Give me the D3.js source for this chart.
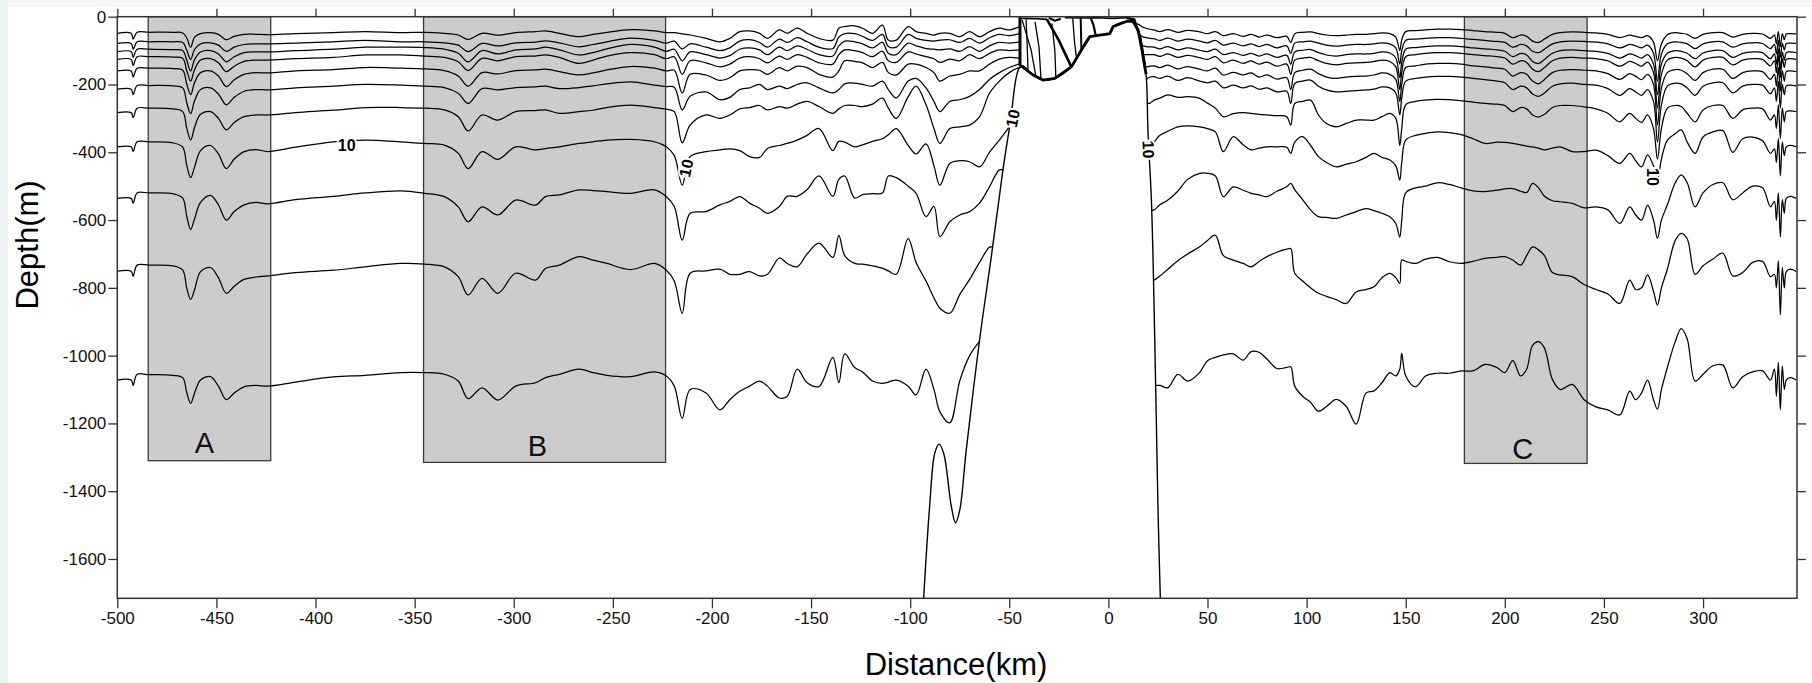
<!DOCTYPE html>
<html>
<head>
<meta charset="utf-8">
<script src="https://cdn.jsdelivr.net/npm/d3@7"></script>
<style>
  body { margin: 0; background: #fff; }
  svg { display: block; font-family: Arial, "Liberation Sans", sans-serif; }
</style>
</head>
<body>
<div id="chart"></div>
<script>
// Axis ticks
const xTicks = [-500, -450, -400, -350, -300, -250, -200, -150, -100, -50, 0, 50, 100, 150, 200, 250, 300]
const yTicks = [0, -200, -400, -600, -800, -1000, -1200, -1400, -1600]

// Shaded boxes
const boxNames = ['A', 'B', 'C']
const boxStart = [-484.4, -345.5, 179.6]
const boxEnd = [-422.6, -223.4, 241.5]
const boxBottom = [1310, 1315, 1318]
const boxLabelKm = [-456, -288, 209]
const boxLabelDepth = [1286, 1296, 1306]

// Contour labels "10"
const labelKm = [-384.3, -213, -48.2, 20.2, 274.7]
const labelDepth = [379, 447, 300, 392, 473]
const labelAngle = [0, -78, -78, 88, 90]

// Bathymetry of the seamount (km, depth m)
const bathyKm = [-93.2, -90.2, -87.6, -85.4, -83.1, -79.2, -77.1, -75, -71.7, -65, -59, -53.2, -49.8, -44,
  -38, -33, -27, -18.7, -13.6, -9.4, 0.7, 2.4, 9.1, 12.4, 15, 17, 19, 20, 21.7, 23.4, 25, 26.2]
const bathyDepth = [1716, 1446, 1288, 1261, 1288, 1446, 1493, 1456, 1278, 954, 705, 452, 325, 145,
  172, 187, 182, 148, 98, 59, 50, 29, 14, 14, 40, 100, 170, 344, 541, 954, 1446, 1716]

// Contours over the shallow top of the seamount (km, depth m)
const shelfTraces = [
  [[-44.6, 0], [-44.6, 145]],
  [[-44, 5], [-36, 6], [-31, 8]],
  [[-31, 8], [-25, 70], [-18.7, 148]],
  [[-41.5, 8], [-41, 80], [-40.5, 163]],
  [[-37, 15], [-35, 90], [-34, 184]],
  [[-28.5, 20], [-27, 100], [-26.5, 182]],
  [[-18, 5], [-17, 80], [-16, 125]],
  [[-14, 0], [-13.6, 98]],
  [[-9, 3], [-7.5, 25], [-6.5, 52]],
  [[-22, 3], [-12, 4], [-5, 3], [2, 5], [9, 3]],
  [[9, 3], [13, 8], [16, 60], [18.5, 150]],
  [[-43.5, 10], [-39, 98], [-36.5, 178]],
  [[-30, 3], [-27, 12], [-24, 6]]
]

// West of the seamount: distance grid (km)
const leftKm = [-500, -493, -492, -490, -484, -472, -467, -465, -463, -461,
  -458, -453, -449, -445, -441, -436, -430, -424, -410, -391,
  -375, -357, -345, -335, -328, -323, -316, -308, -299, -289,
  -284, -277, -267, -260, -253, -241, -229, -223, -219, -215,
  -211, -203, -196, -191, -186, -181, -176, -172, -166, -162,
  -157, -152, -146, -139, -136, -133, -128, -124, -119, -114,
  -111, -107, -101, -97, -92, -88, -85, -80, -75, -70,
  -65, -60, -55, -50, -45]

// Contour depths (m), shallow to deep
const line1Left = [49, 49, 66, 46, 46, 46, 48, 62, 90, 60,
  50, 47, 52, 68, 58, 52, 52, 53, 50, 47,
  44, 47, 46, 49, 54, 67, 49, 54, 47, 44,
  42, 49, 59, 52, 46, 38, 42, 47, 47, 51,
  54, 64, 74, 64, 44, 42, 49, 64, 39, 49,
  34, 49, 64, 69, 34, 29, 27, 34, 49, 25,
  69, 69, 29, 44, 49, 54, 49, 49, 59, 44,
  59, 44, 34, 39, 30]
const line2Left = [79, 79, 96, 74, 74, 74, 76, 98, 126, 96,
  80, 77, 84, 102, 90, 82, 80, 80, 78, 74,
  70, 74, 74, 77, 84, 103, 79, 86, 77, 75,
  71, 77, 89, 82, 74, 63, 70, 78, 72, 95,
  80, 90, 100, 92, 72, 68, 76, 90, 66, 76,
  62, 74, 90, 94, 60, 50, 50, 58, 70, 52,
  88, 90, 52, 64, 70, 72, 69, 68, 76, 64,
  78, 62, 52, 56, 50]
const line3Left = [103, 103, 120, 96, 96, 97, 100, 128, 160, 126,
  104, 100, 110, 133, 118, 106, 104, 104, 100, 96,
  90, 90, 91, 96, 108, 133, 100, 110, 98, 95,
  90, 98, 113, 106, 95, 82, 90, 102, 96, 130,
  104, 112, 122, 115, 96, 92, 98, 112, 90, 100,
  86, 96, 112, 116, 86, 72, 74, 80, 92, 76,
  108, 112, 78, 86, 94, 96, 98, 95, 102, 88,
  102, 86, 76, 78, 75]
const line4Left = [126, 126, 144, 118, 118, 119, 123, 158, 190, 156,
  128, 124, 136, 162, 146, 132, 128, 128, 124, 120,
  113, 113, 116, 120, 133, 159, 123, 130, 118, 116,
  113, 120, 138, 128, 116, 106, 112, 124, 118, 170,
  130, 136, 148, 140, 122, 118, 124, 136, 116, 126,
  112, 120, 136, 140, 112, 98, 100, 106, 118, 102,
  130, 135, 104, 110, 118, 124, 135, 125, 130, 112,
  124, 108, 98, 100, 98]
const line5Left = [160, 160, 178, 152, 152, 153, 158, 198, 230, 194,
  165, 160, 175, 206, 186, 170, 165, 166, 160, 156,
  150, 152, 154, 159, 175, 205, 165, 169, 159, 157,
  155, 162, 172, 166, 157, 147, 152, 160, 158, 225,
  170, 172, 188, 180, 160, 156, 158, 170, 150, 160,
  146, 150, 170, 178, 160, 130, 132, 136, 150, 135,
  165, 172, 140, 140, 150, 165, 190, 175, 170, 160,
  160, 140, 125, 120, 122]
const line6Left = [214, 214, 230, 203, 203, 204, 210, 253, 286, 248,
  215, 210, 228, 260, 238, 220, 215, 216, 210, 205,
  200, 202, 205, 209, 226, 256, 212, 216, 209, 207,
  205, 212, 209, 204, 198, 192, 202, 206, 208, 275,
  235, 222, 245, 238, 215, 210, 200, 215, 205, 212,
  200, 195, 210, 225, 215, 198, 196, 200, 205, 190,
  215, 240, 190, 182, 210, 250, 280, 250, 245, 235,
  215, 185, 165, 150, 140]
const line7Left = [283, 283, 298, 270, 270, 272, 280, 328, 364, 326,
  288, 280, 300, 334, 312, 295, 290, 290, 283, 276,
  268, 268, 270, 275, 295, 337, 290, 305, 280, 277,
  275, 285, 280, 276, 268, 261, 268, 273, 280, 372,
  320, 290, 300, 290, 272, 268, 262, 275, 265, 270,
  258, 250, 265, 285, 272, 262, 262, 265, 258, 240,
  270, 300, 236, 205, 260, 330, 374, 330, 325, 320,
  295, 226, 190, 165, 150]
const line8Left = [384, 384, 398, 369, 369, 372, 385, 438, 475, 443,
  395, 380, 405, 448, 420, 398, 392, 398, 385, 369,
  364, 369, 374, 379, 403, 448, 398, 421, 384, 393,
  389, 384, 374, 369, 364, 362, 369, 384, 410, 497,
  413, 398, 393, 390, 395, 413, 415, 389, 380, 374,
  364, 350, 330, 395, 368, 370, 384, 378, 368, 360,
  348, 330, 380, 405, 375, 440, 497, 433, 425, 428,
  443, 400, 364, 325, null]
const line9Left = [536, 536, 550, 520, 520, 522, 535, 588, 628, 596,
  548, 527, 555, 600, 575, 555, 548, 552, 540, 530,
  520, 514, 521, 531, 561, 605, 561, 585, 541, 556,
  531, 526, 511, 513, 516, 521, 511, 531, 560, 659,
  580, 575, 555, 545, 531, 550, 565, 580, 560, 530,
  530, 510, 470, 530, 480, 470, 535, 525, 522, 520,
  470, 475, 500, 521, 590, 560, 649, 605, 585, 575,
  550, 502, 452, null, null]
const line10Left = [751, 751, 766, 733, 733, 735, 748, 800, 834, 805,
  752, 740, 770, 816, 795, 775, 768, 765, 755, 748,
  738, 728, 730, 738, 767, 821, 772, 816, 757, 777,
  743, 733, 708, 718, 728, 746, 728, 748, 780, 875,
  757, 750, 745, 760, 760, 752, 765, 760, 712, 728,
  738, 700, 668, 710, 645, 705, 728, 730, 735, 742,
  750, 760, 655, 725, 780, 830, 860, 875, 820, 775,
  725, 680, null, null, null]
const line11Left = [1072, 1072, 1088, 1055, 1056, 1058, 1065, 1108, 1141, 1110,
  1072, 1062, 1090, 1130, 1110, 1092, 1088, 1090, 1078, 1063,
  1058, 1050, 1050, 1055, 1075, 1127, 1095, 1131, 1090, 1080,
  1065, 1055, 1040, 1050, 1058, 1062, 1048, 1060, 1090, 1185,
  1100, 1110, 1160, 1130, 1105, 1090, 1075, 1090, 1125, 1120,
  1040, 1080, 1091, 1005, 1080, 995, 1035, 1048, 1075, 1082,
  1078, 1072, 1090, 1116, 1040, 1100, 1166, 1198, 1075, 1000,
  958, null, null, null, null]

// East of the seamount: distance grid (km)
const rightKm = [15, 17, 19, 21, 23, 26, 30, 35, 40, 46,
  50, 54, 58, 63, 68, 72, 76, 80, 85, 90,
  92, 94, 98, 102, 106, 110, 115, 120, 125, 130,
  134, 138, 142, 145, 147, 148, 150, 155, 160, 166,
  172, 178, 184, 190, 196, 200, 204, 208, 211, 214,
  217, 220, 224, 228, 234, 240, 246, 252, 258, 263,
  266, 269, 272, 275, 277, 279, 282, 286, 289, 292,
  296, 300, 305, 310, 315, 320, 325, 330, 334, 336,
  337, 338, 339, 340, 341, 342, 344, 347]

const line1Right = [22, 30, 34, 37, 39, 44, 38, 46, 40, 45,
  50, 44, 56, 50, 58, 52, 60, 54, 62, 58,
  76, 50, 46, 45, 50, 54, 56, 54, 52, 52,
  50, 48, 50, 60, 100, 68, 44, 41, 39, 37,
  37, 38, 41, 44, 46, 49, 62, 54, 58, 72,
  76, 66, 52, 47, 45, 46, 48, 52, 62, 54,
  58, 62, 56, 75, 130, 80, 53, 47, 49, 52,
  64, 52, 47, 47, 60, 52, 49, 51, 64, 54,
  80, 44, 88, 50, 68, 51, 50, 51]
const line2Right = [50, 58, 62, 64, 65, 70, 63, 72, 66, 72,
  77, 70, 84, 78, 86, 80, 88, 82, 92, 86,
  108, 78, 74, 72, 78, 84, 87, 84, 82, 82,
  80, 77, 80, 92, 140, 100, 70, 66, 64, 62,
  62, 64, 67, 70, 73, 76, 90, 82, 86, 102,
  106, 96, 80, 74, 72, 73, 75, 80, 92, 82,
  86, 92, 84, 108, 190, 110, 80, 74, 76, 80,
  94, 80, 74, 74, 90, 80, 77, 79, 94, 82,
  110, 70, 120, 78, 98, 79, 78, 79]
const line3Right = [null, 86, 88, 89, 90, 95, 88, 98, 92, 99,
  103, 96, 112, 106, 114, 108, 116, 110, 120, 114,
  140, 104, 99, 97, 106, 113, 116, 112, 110, 110,
  108, 104, 107, 122, 180, 135, 96, 91, 88, 86,
  86, 88, 92, 95, 98, 102, 118, 108, 113, 132,
  138, 126, 108, 100, 98, 100, 102, 108, 122, 110,
  115, 122, 112, 140, 230, 140, 108, 100, 102, 108,
  124, 107, 100, 100, 120, 108, 104, 106, 124, 110,
  140, 95, 155, 104, 128, 106, 104, 106]
const line4Right = [null, 112, 112, 112, 112, 117, 110, 120, 114, 121,
  126, 118, 136, 128, 138, 130, 140, 134, 146, 140,
  170, 128, 122, 120, 130, 138, 142, 138, 136, 135,
  132, 128, 132, 148, 215, 165, 118, 112, 108, 106,
  106, 108, 112, 115, 118, 122, 140, 130, 135, 155,
  162, 150, 130, 122, 120, 122, 124, 130, 146, 132,
  138, 146, 134, 165, 270, 170, 128, 120, 122, 130,
  148, 128, 120, 120, 142, 128, 124, 126, 145, 130,
  165, 115, 180, 124, 150, 126, 124, 126]
const line5Right = [null, null, 148, 146, 145, 150, 143, 154, 147, 155,
  160, 152, 172, 164, 172, 166, 178, 172, 184, 180,
  215, 165, 158, 155, 168, 178, 182, 178, 176, 175,
  172, 166, 170, 185, 250, 200, 150, 145, 140, 138,
  138, 140, 145, 148, 152, 155, 175, 165, 170, 190,
  198, 185, 165, 158, 156, 158, 160, 168, 185, 168,
  176, 186, 170, 200, 320, 210, 165, 156, 158, 168,
  188, 165, 155, 155, 182, 165, 160, 162, 185, 170,
  205, 150, 220, 160, 190, 162, 160, 162]
const line6Right = [null, null, 185, 178, 177, 182, 175, 188, 180, 190,
  195, 190, 210, 202, 210, 204, 214, 210, 222, 220,
  256, 197, 190, 187, 205, 216, 222, 220, 218, 216,
  214, 207, 210, 225, 290, 240, 190, 182, 178, 176,
  176, 178, 182, 186, 190, 195, 215, 205, 210, 228,
  235, 225, 205, 198, 196, 200, 202, 212, 232, 212,
  222, 232, 215, 250, 370, 260, 205, 196, 198, 210,
  232, 205, 195, 195, 225, 205, 200, 202, 228, 210,
  250, 190, 270, 200, 230, 204, 202, 204]
const line7Right = [null, null, null, 255, 246, 240, 231, 238, 236, 241,
  255, 270, 295, 286, 283, 285, 288, 290, 292, 295,
  320, 256, 250, 246, 290, 315, 325, 315, 305, 305,
  305, 295, 285, 300, 380, 330, 260, 250, 246, 244,
  245, 248, 252, 256, 258, 262, 280, 268, 272, 290,
  296, 288, 268, 262, 262, 266, 272, 285, 310, 285,
  300, 312, 290, 330, 420, 330, 270, 262, 265, 285,
  310, 275, 262, 262, 300, 275, 270, 272, 305, 290,
  330, 260, 360, 270, 310, 280, 278, 280]
const line8Right = [null, null, null, 380, 370, 350, 338, 325, 322, 325,
  330, 340, 398, 354, 378, 393, 388, 384, 384, 385,
  403, 370, 354, 380, 413, 430, 443, 435, 428, 415,
  403, 415, 423, 440, 482, 430, 364, 350, 344, 340,
  342, 348, 360, 374, 370, 371, 374, 378, 382, 384,
  388, 393, 388, 384, 398, 398, 394, 410, 433, 403,
  425, 443, 408, 440, 480, 420, 364, 345, 334, 370,
  403, 355, 340, 336, 400, 360, 355, 366, 403, 390,
  430, 360, 470, 370, 410, 384, 380, 384]
const line9Right = [null, null, null, null, 570, 555, 541, 515, 480, 462,
  462, 470, 531, 502, 512, 521, 526, 531, 515, 502,
  492, 510, 540, 570, 590, 592, 595, 585, 575, 566,
  572, 580, 590, 610, 650, 600, 520, 505, 500, 490,
  495, 505, 514, 516, 512, 508, 507, 515, 519, 492,
  505, 530, 543, 546, 551, 564, 561, 570, 610, 561,
  585, 600, 556, 600, 654, 600, 555, 490, 467, 490,
  561, 520, 495, 490, 540, 520, 500, 505, 561, 545,
  600, 520, 650, 540, 580, 536, 530, 536]
const line10Right = [null, null, null, null, 777, 765, 745, 720, 700, 679,
  660, 645, 705, 718, 728, 738, 722, 708, 695, 686,
  684, 757, 780, 800, 816, 825, 835, 846, 812, 805,
  797, 770, 757, 770, 787, 718, 722, 728, 715, 710,
  723, 728, 722, 713, 710, 708, 718, 733, 705, 679,
  688, 705, 755, 762, 767, 790, 805, 818, 846, 777,
  805, 800, 762, 810, 851, 800, 745, 660, 639, 655,
  760, 735, 715, 698, 765, 755, 725, 722, 767, 760,
  800, 720, 880, 740, 800, 752, 745, 752]
const line11Right = [null, null, null, null, null, 1088, 1095, 1055, 1075, 1050,
  1015, 1005, 998, 995, 1013, 988, 990, 1010, 1038, 1035,
  1033, 1090, 1120, 1138, 1164, 1150, 1129, 1150, 1202, 1110,
  1104, 1080, 1050, 1060, 1040, 993, 1060, 1092, 1060, 1052,
  1052, 1045, 1045, 1026, 1035, 1050, 1015, 1060, 1040, 970,
  959, 978, 1070, 1100, 1085, 1130, 1151, 1160, 1175, 1105,
  1130, 1110, 1072, 1130, 1158, 1100, 1035, 958, 920, 950,
  1075, 1055, 1030, 1028, 1095, 1062, 1048, 1045, 1072, 1040,
  1120, 1020, 1160, 1030, 1100, 1072, 1065, 1072]

const leftLines = [line1Left, line2Left, line3Left, line4Left, line5Left, line6Left,
  line7Left, line8Left, line9Left, line10Left, line11Left]
const rightLines = [line1Right, line2Right, line3Right, line4Right, line5Right, line6Right,
  line7Right, line8Right, line9Right, line10Right, line11Right]

// Initialization
const width = 1812
const height = 683
const font = 'Arial, "Liberation Sans", sans-serif'

const x = d3.scaleLinear().domain([-500, 347.4]).range([117.3, 1797])
const y = d3.scaleLinear().domain([0, -1716]).range([16.7, 598.3])

const svg = d3.select('#chart').append('svg')
  .attr('width', width)
  .attr('height', height)

// Page background strips
svg.append('rect').attr('width', width).attr('height', height).attr('fill', '#fff')
svg.append('rect').attr('width', 8).attr('height', height).attr('fill', '#edf2f2')
svg.append('rect').attr('x', 8).attr('width', width - 8).attr('height', 7).attr('fill', '#f6f6f6')

// Shaded boxes
svg.selectAll('.box')
  .data(boxNames)
  .enter()
  .append('rect')
  .attr('class', 'box')
  .attr('x', (_, i) => x(boxStart[i]))
  .attr('y', y(0))
  .attr('width', (_, i) => x(boxEnd[i]) - x(boxStart[i]))
  .attr('height', (_, i) => y(-boxBottom[i]) - y(0))
  .attr('fill', '#cccccc')
  .attr('stroke', '#3a3a3a')
  .attr('stroke-width', 1.3)

svg.selectAll('.box-label')
  .data(boxNames)
  .enter()
  .append('text')
  .attr('x', (_, i) => x(boxLabelKm[i]))
  .attr('y', (_, i) => y(-boxLabelDepth[i]))
  .attr('text-anchor', 'middle')
  .attr('font-family', font)
  .attr('font-size', 29)
  .attr('fill', '#111')
  .text(d => d)

const line = d3.line()
  .defined(d => d[1] != null)
  .x(d => x(d[0]))
  .y(d => y(-d[1]))
  .curve(d3.curveCatmullRom.alpha(0.5))

const straight = d3.line()
  .x(d => x(d[0]))
  .y(d => y(-d[1]))

// Slopes of the seamount, used to join contours to the sea floor
const slopeLeft = d3.scaleLinear()
  .domain(bathyDepth.slice(6, 14))
  .range(bathyKm.slice(6, 14))
  .clamp(true)
const slopeRight = d3.scaleLinear()
  .domain(bathyDepth.slice(23))
  .range(bathyKm.slice(23))
  .clamp(true)

function leftSegment(vals) {
  const pts = leftKm.map((k, i) => [k, vals[i]]).filter(p => p[1] != null)
  const last = pts[pts.length - 1]
  const end = last[1] > 145 ? slopeLeft(last[1]) : -44.6
  if (end > last[0] + 0.2) pts.push([end, last[1]])
  return pts
}

function rightSegment(vals) {
  const pts = rightKm.map((k, i) => [k, vals[i]]).filter(p => p[1] != null)
  const first = pts[0]
  const start = slopeRight(first[1])
  if (start < first[0] - 0.2) pts.unshift([start, first[1]])
  return pts
}

const contours = svg.append('g')
  .attr('fill', 'none')
  .attr('stroke', '#000')
  .attr('stroke-width', 1.25)
  .attr('stroke-linejoin', 'round')

contours.selectAll('.left')
  .data(leftLines.map(leftSegment))
  .enter()
  .append('path')
  .attr('d', line)

contours.selectAll('.right')
  .data(rightLines.map(rightSegment))
  .enter()
  .append('path')
  .attr('d', line)

// Shallow contours over the seamount
const shelfWidth = [3, 1.6, 2.6, 1.3, 1.3, 1.3, 1.3, 2, 2.2, 1.6, 2.6, 1.3, 2.2]
contours.selectAll('.shelf')
  .data(shelfTraces)
  .enter()
  .append('path')
  .attr('stroke-width', (_, i) => shelfWidth[i])
  .attr('d', straight)

// Bathymetry
const bathy = bathyKm.map((k, i) => [k, bathyDepth[i]])
contours.append('path')
  .attr('stroke-width', 1.4)
  .attr('d', line(bathy))
contours.append('path')
  .attr('stroke-width', 2.8)
  .attr('d', straight(bathy.slice(13, 27)))

// "10" labels
svg.selectAll('.clabel')
  .data(labelKm)
  .enter()
  .append('text')
  .attr('transform', (d, i) => `translate(${x(d)},${y(-labelDepth[i])}) rotate(${labelAngle[i]})`)
  .attr('text-anchor', 'middle')
  .attr('dy', '0.35em')
  .attr('font-family', font)
  .attr('font-size', 16)
  .attr('font-weight', 'bold')
  .attr('fill', '#000')
  .attr('stroke', '#fff')
  .attr('stroke-width', 4)
  .attr('paint-order', 'stroke')
  .text('10')

// Frame
svg.append('rect')
  .attr('x', x(-500))
  .attr('y', y(0))
  .attr('width', x(347.4) - x(-500))
  .attr('height', y(-1716) - y(0))
  .attr('fill', 'none')
  .attr('stroke', '#333')
  .attr('stroke-width', 1.5)

// Axes
function styleAxis(g) {
  g.select('.domain').remove()
  g.attr('font-family', font).attr('font-size', 17)
  g.selectAll('line').attr('stroke', '#333').attr('stroke-width', 1.3)
  g.selectAll('text').attr('fill', '#111')
}

svg.append('g')
  .attr('transform', `translate(0,${y(-1716)})`)
  .call(d3.axisBottom(x).tickValues(xTicks).tickSize(10).tickPadding(4).tickFormat(d => String(d)))
  .call(styleAxis)

svg.append('g')
  .attr('transform', `translate(0,${y(0)})`)
  .call(d3.axisTop(x).tickValues(xTicks).tickSize(8).tickFormat(''))
  .call(styleAxis)

svg.append('g')
  .attr('transform', `translate(${x(-500)},0)`)
  .call(d3.axisLeft(y).tickValues(yTicks).tickSize(9).tickPadding(2).tickFormat(d => String(d)))
  .call(styleAxis)

svg.append('g')
  .attr('transform', `translate(${x(347.4)},0)`)
  .call(d3.axisRight(y).tickValues(yTicks).tickSize(9).tickFormat(''))
  .call(styleAxis)

// Axis titles
svg.append('text')
  .attr('x', 956)
  .attr('y', 675)
  .attr('text-anchor', 'middle')
  .attr('font-family', font)
  .attr('font-size', 31)
  .attr('fill', '#000')
  .text('Distance(km)')

svg.append('text')
  .attr('transform', 'translate(38,245) rotate(-90)')
  .attr('text-anchor', 'middle')
  .attr('font-family', font)
  .attr('font-size', 31)
  .attr('fill', '#000')
  .text('Depth(m)')
</script>
</body>
</html>
